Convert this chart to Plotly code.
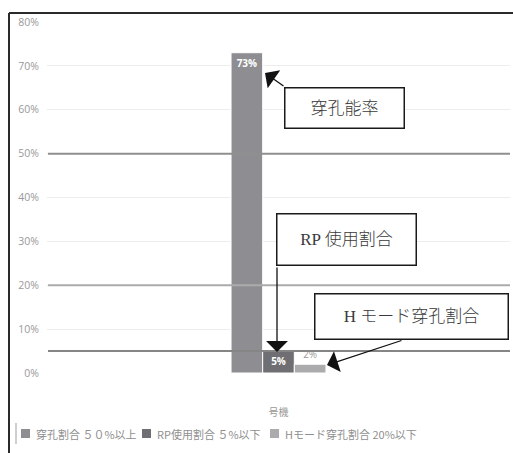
import plotly.graph_objects as go

# ---- data ----
category = ["号機"]
series_names = ["穿孔割合 ５０%以上", "RP使用割合 ５%以下", "Hモード穿孔割合 20%以下"]
series_values = [73, 5, 2]
series_labels = ["73%", "5%", "2%"]
series_colors = ["#8e8e92", "#6f6f73", "#ababae"]
threshold_values = [50, 20, 5]
threshold_colors = ["#8f8f8f", "#ababab", "#858585"]
callout_texts = ["穿孔能率", "RP 使用割合", "H モード穿孔割合"]
legend_item_x = [21, 142, 270]
y_ticks = [0, 10, 20, 30, 40, 50, 60, 70, 80]

W, H = 513, 453
L, R, T, B = 47, 3, 22, 80
PW, PH = W - L - R, H - T - B


def px(x):
    return (x - L) / PW


def py(y):
    return (H - B - y) / PH


fig = go.Figure()
text_pos = ["inside", "inside", "outside"]
for name, val, lab, col, tp in zip(series_names, series_values, series_labels, series_colors, text_pos):
    fig.add_trace(go.Bar(
        x=category, y=[val], name=name, text=[lab], textposition=tp,
        insidetextanchor="end",
        textfont=dict(size=10, color="white" if tp == "inside" else "#9a9a9a",
                      family="Open Sans", weight="bold" if tp == "inside" else "normal"),
        marker=dict(color=col, line=dict(color="white", width=1)),
        cliponaxis=False, showlegend=False,
    ))

shapes = []
for v, c in zip(threshold_values, threshold_colors):
    shapes.append(dict(type="line", xref="paper", yref="y", x0=px(48), x1=px(510), y0=v, y1=v,
                       line=dict(color=c, width=2), layer="above"))

# outer frame (left + top)
shapes.append(dict(type="line", xref="paper", yref="paper", x0=px(9), x1=px(513), y0=py(13), y1=py(13),
                   line=dict(color="#2a2a2a", width=2)))
shapes.append(dict(type="line", xref="paper", yref="paper", x0=px(9), x1=px(9), y0=py(13), y1=py(455),
                   line=dict(color="#2a2a2a", width=2)))
# legend left bar
shapes.append(dict(type="line", xref="paper", yref="paper", x0=px(16), x1=px(16), y0=py(423), y1=py(444),
                   line=dict(color="#cfcfcf", width=2)))

annotations = []
# manual legend
for lx, name, col in zip(legend_item_x, series_names, series_colors):
    shapes.append(dict(type="rect", xref="paper", yref="paper", x0=px(lx), x1=px(lx + 9),
                       y0=py(438), y1=py(429), fillcolor=col, line=dict(width=0)))
    annotations.append(dict(xref="paper", yref="paper", x=px(lx + 13), y=py(433.5), text=name,
                            showarrow=False, xanchor="left", yanchor="middle",
                            font=dict(size=11, color="#8f8f8f", family="Noto Sans CJK JP")))

# callout boxes
boxes = [(284, 404, 87, 128), (276, 416, 213, 265), (314, 508, 293, 339)]
for (x0, x1, y0, y1), t in zip(boxes, callout_texts):
    annotations.append(dict(xref="paper", yref="paper", x=px((x0 + x1) / 2), y=py((y0 + y1) / 2),
                            text=t, showarrow=False, xanchor="center", yanchor="middle",
                            width=x1 - x0 - 2, height=y1 - y0 - 2, borderpad=0,
                            bordercolor="#1a1a1a", borderwidth=1.5, bgcolor="white",
                            font=dict(size=17, color="#3a3a3a",
                                      family="Liberation Serif, Noto Sans CJK JP", weight=300)))

# arrows (tip, tail offset)
arrows = [((265, 73), (20, 14)), ((277, 352), (0, -86)), ((327, 365), (76, -25))]
for (tx, ty), (ax, ay) in arrows:
    annotations.append(dict(xref="paper", yref="paper", x=px(tx), y=py(ty), ax=ax, ay=ay,
                            axref="pixel", ayref="pixel", text="", showarrow=True,
                            arrowhead=1, arrowsize=2.8, arrowwidth=1.3, arrowcolor="#111",
                            standoff=0))

fig.update_layout(
    width=W, height=H, margin=dict(l=L, r=R, t=T, b=B),
    paper_bgcolor="white", plot_bgcolor="white",
    barmode="group", bargap=0.795, bargroupgap=0,
    font=dict(family="Open Sans, Noto Sans CJK JP", color="#999"),
    showlegend=False,
    shapes=shapes, annotations=annotations,
    xaxis=dict(showticklabels=False, showgrid=False, zeroline=False, showline=False,
               title=dict(text="号機", font=dict(size=10, color="#999"), standoff=35)),
    yaxis=dict(range=[0, 80], tickvals=y_ticks, ticktext=[f"{v}%" for v in y_ticks],
               showgrid=True, gridcolor="#ededed", gridwidth=1, zeroline=False,
               showline=False, tickfont=dict(size=10.5, color="#999999"), ticks="",
               ticklabelstandoff=7),
)

fig.write_html("out.html")
